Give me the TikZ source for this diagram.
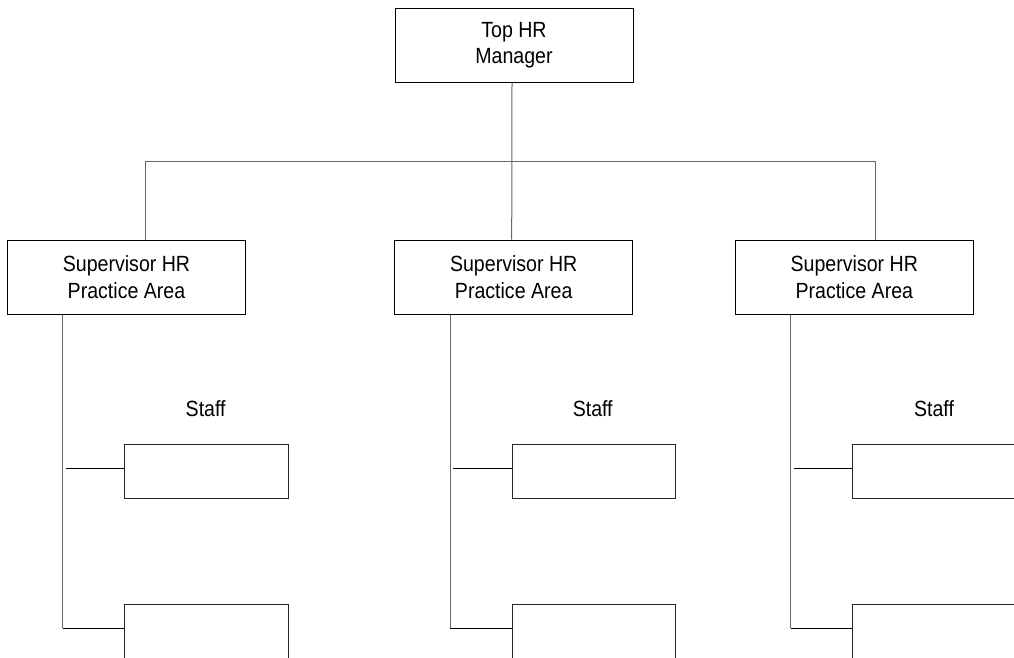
\documentclass[tikz,border=0pt]{standalone}
\usepackage{fontspec}
\setmainfont{Liberation Sans}
\newfontfamily\narrowsans[FakeStretch=0.89]{Liberation Sans}
\begin{document}
\begin{tikzpicture}[x=1pt,y=-1pt,
  box/.style={draw=black,line width=1pt,minimum width=238pt,minimum height=74pt,inner sep=0pt,align=center,font=\narrowsans\fontsize{22}{26.5}\selectfont},
  staffbox/.style={draw=black!85,line width=1pt,minimum width=163.4pt,minimum height=53.4pt,inner sep=0pt},
  stafflabel/.style={inner sep=0pt,font=\narrowsans\fontsize{22}{26.5}\selectfont},
  conn/.style={draw=black!60,line width=1pt},
  stub/.style={draw=black,line width=1pt}]
\useasboundingbox (0,0) rectangle (1014,657);
\clip (0,0) rectangle (1014,657);
% top box
\node[box] (t) at (514,45.3) {Top HR\\Manager};
% supervisor boxes
\node[box] (s1) at (126.5,277.2) {Supervisor HR\\Practice Area};
\node[box] (s2) at (513.7,277.2) {Supervisor HR\\Practice Area};
\node[box] (s3) at (854.3,277.2) {Supervisor HR\\Practice Area};
% staff labels
\node[stafflabel,anchor=base] (l1) at (205.7,416.5) {Staff};
\node[stafflabel,anchor=base] (l2) at (592.7,416.5) {Staff};
\node[stafflabel,anchor=base] (l3) at (934,416.5) {Staff};
% staff boxes
\node[staffbox,anchor=north west] (a1) at (124.3,444.3) {};
\node[staffbox,anchor=north west] (b1) at (124.3,604.3) {};
\node[staffbox,anchor=north west] (a2) at (511.7,444.3) {};
\node[staffbox,anchor=north west] (b2) at (511.7,604.3) {};
\node[staffbox,anchor=north west] (a3) at (852.3,444.3) {};
\node[staffbox,anchor=north west] (b3) at (852.3,604.3) {};
% bus
\coordinate (busL) at (145,161);
\coordinate (busR) at (875,161);
\draw[conn] (s1.north -| busL) -- (busL) -- (busR) -- (s3.north -| busR);
\draw[conn] ([xshift=-2pt]t.south) -- ([xshift=-2pt]s2.north);
% down lines and stubs
\coordinate (d1) at (62.7,0);
\coordinate (d2) at (450.2,0);
\coordinate (d3) at (790.7,0);
\foreach \i in {1,2,3}{
  \draw[conn] (s\i.south -| d\i) -- ([yshift=-24pt]b\i.north west -| d\i);
  \draw[stub] ([yshift=-24pt]b\i.north west -| d\i) -- ([yshift=-24pt]b\i.north west);
  \draw[stub] ([yshift=-24pt,xshift=3pt]a\i.north west -| d\i) -- ([yshift=-24pt]a\i.north west);
}
\end{tikzpicture}
\end{document}
